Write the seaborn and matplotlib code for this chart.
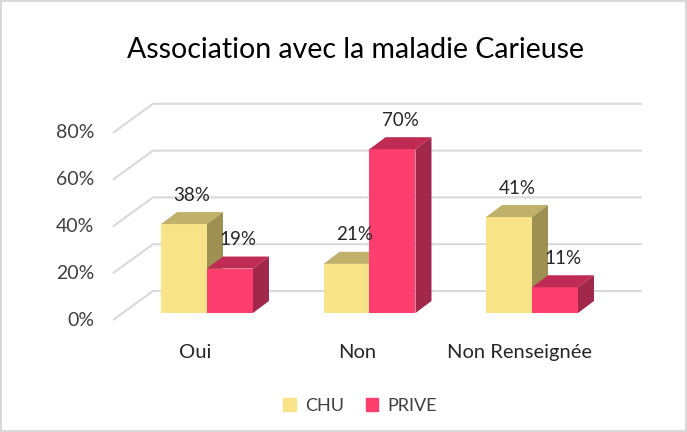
import matplotlib
matplotlib.use("Agg")
import matplotlib.pyplot as plt
from matplotlib.patches import Patch
import pandas as pd
import seaborn as sns

# donnees
categories = ["Oui", "Non", "Non Renseignée"]
groupes = ["CHU", "PRIVE"]
chu = [38, 21, 41]
prive = [19, 70, 11]
ticks = [0, 20, 40, 60, 80]

df = pd.DataFrame({
    "categorie": categories * 2,
    "groupe": ["CHU"] * 3 + ["PRIVE"] * 3,
    "valeur": chu + prive,
})

# couleurs facettes : face, dessus, cote
couleurs = {
    "CHU": ("#F8E388", "#BFB06A", "#9E8F52"),
    "PRIVE": ("#FE3E6E", "#C02B55", "#A1284A"),
}

sns.set_style("white")
plt.rcParams["font.family"] = ["Lato", "DejaVu Sans"]

W, H = 687, 432
fig = plt.figure(figsize=(W / 100, H / 100), dpi=100)
fig.patch.set_edgecolor("#d9d9d9")
fig.patch.set_linewidth(1.5)

# axes en pixels : x 100..660, y 90..330
ax = fig.add_axes([100 / W, 1 - 330 / H, 560 / W, 240 / H])
px_x = 162.5   # pixels par categorie
px_y = 2.34    # pixels par pourcent
x0_px, y0_px = 207, 313

# profondeur des barres
dx = 16 / px_x
dy = 12 / px_y

sns.barplot(data=df, x="categorie", y="valeur", hue="groupe", order=categories,
            hue_order=groupes, palette=[couleurs[g][0] for g in groupes],
            width=0.566, gap=0, saturation=1, legend=False, ax=ax)

ax.set_xlim((100 - x0_px) / px_x, (660 - x0_px) / px_x)
ax.set_ylim(-(330 - y0_px) / px_y, (y0_px - 90) / px_y)

# grille (plan arriere + diagonales)
gx_back0 = (153 - x0_px) / px_x
gx_back1 = (642 - x0_px) / px_x
gx_front = (113 - x0_px) / px_x
back_off = 22 / px_y
front_off = -7 / px_y
for t in ticks:
    ax.plot([gx_front, gx_back0, gx_back1], [t + front_off, t + back_off, t + back_off],
            color="#d9d9d9", lw=1.5, zorder=0, solid_capstyle="butt")
    ax.text(gx_front - 19 / px_x, t + front_off, f"{t}%", ha="right", va="center",
            fontsize=14, color="#404040")

bars = [p for p in ax.patches]
for i, p in enumerate(bars):
    g = groupes[i // len(categories)]
    z = 2 + i // len(categories)
    face, top, side = couleurs[g]
    p.set_zorder(z)
    p.set_edgecolor("none")
    x0 = p.get_x()
    x1 = x0 + p.get_width()
    h = p.get_height()
    ax.fill([x0, x0 + dx, x1 + dx, x1], [h, h + dy, h + dy, h], color=top, lw=0, zorder=z)
    ax.fill([x1, x1 + dx, x1 + dx, x1], [0, dy, h + dy, h], color=side, lw=0, zorder=z)
    ax.text((x0 + x1) / 2 + 8 / px_x, h + 29 / px_y, f"{h:.0f}%", ha="center", va="center",
            fontsize=13.5, color="#262626", zorder=5)

# etiquettes de categories un peu decalees vers la gauche (vue 3D)
ax.set_xticks([k - 12 / px_x for k in range(len(categories))])
ax.set_xticklabels(categories, fontsize=14.5, color="#262626")
ax.tick_params(axis="x", length=0, pad=10)
ax.set_yticks([])
ax.set_xlabel("")
ax.set_ylabel("")
for s in ax.spines.values():
    s.set_visible(False)

fig.text(355.5 / W, 1 - 50 / H, "Association avec la maladie Carieuse", ha="center",
         va="center", fontsize=20.5, color="#000000")

handles = [Patch(color=couleurs[g][0], label=g) for g in groupes]
leg = fig.legend(handles=handles, loc="center", bbox_to_anchor=(360 / W, 1 - 406 / H), ncol=2,
                 frameon=False, fontsize=13, handlelength=0.7, handleheight=0.7,
                 handletextpad=0.5, columnspacing=1.2)
for t in leg.get_texts():
    t.set_color("#404040")

fig.savefig("out.png", dpi=100)
